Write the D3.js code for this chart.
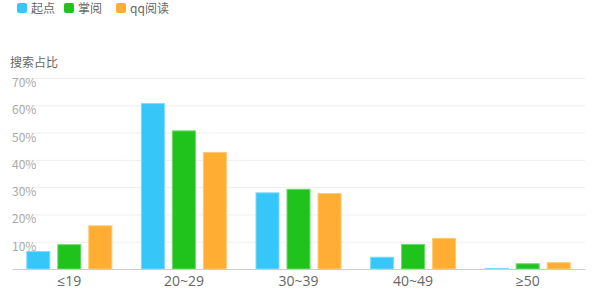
<!DOCTYPE html>
<html>
<head>
<meta charset="utf-8">
<script src="https://cdn.jsdelivr.net/npm/d3@7"></script>
<style>
  body { margin: 0; background: #fff; }
  text { font-family: "Microsoft YaHei", "Noto Sans CJK SC", "Open Sans", sans-serif; }
  .axis--x text { font-family: "Open Sans", "DejaVu Sans", sans-serif; }
</style>
</head>
<body>
<div id="chart"></div>
<script>
const categories = ["≤19", "20~29", "30~39", "40~49", "≥50"];
const seriesNames = ["起点", "掌阅", "qq阅读"];
const qidian = [6.6, 60.8, 28.1, 4.5, 0.4];
const zhangyue = [9.1, 50.8, 29.4, 9.2, 2.1];
const qqread = [16.0, 42.9, 27.8, 11.4, 2.5];
const yTicks = [10, 20, 30, 40, 50, 60, 70];
const colors = ["#36c6f8", "#20c31c", "#ffad33"];
const strokes = ["#7fdafb", "#6bd968", "#ffc870"];

const width = 597, height = 300;
const margin = {left: 12, right: 12, top: 78, bottom: 31};

const svg = d3.select("#chart").append("svg")
    .attr("width", width)
    .attr("height", height);

const x0 = d3.scaleBand()
    .domain(categories)
    .range([margin.left, width - margin.right]);

const groupPad = 14.3;
const x1 = d3.scaleBand()
    .domain(seriesNames)
    .range([groupPad, x0.bandwidth() - groupPad])
    .paddingInner(0.226);

const y = d3.scaleLinear()
    .domain([0, 70])
    .range([height - margin.bottom, margin.top]);

// grid lines
svg.append("g")
    .selectAll("line")
    .data(yTicks)
    .enter().append("line")
    .attr("x1", margin.left)
    .attr("x2", width - margin.right)
    .attr("y1", d => y(d) + 0.5)
    .attr("y2", d => y(d) + 0.5)
    .attr("stroke", "#eeeeee");

// y labels (inside, below line)
svg.append("g")
    .selectAll("text")
    .data(yTicks)
    .enter().append("text")
    .attr("x", margin.left)
    .attr("y", d => y(d) + 9)
    .style("font-size", "12px")
    .attr("fill", "#aaaaaa")
    .text(d => d + "%");

svg.append("text")
    .attr("x", 10)
    .attr("y", 67)
    .style("font-size", "12px")
    .attr("fill", "#666")
    .text("搜索占比");

const series = [qidian, zhangyue, qqread];

const groups = svg.append("g")
    .selectAll("g")
    .data(categories)
    .enter().append("g")
    .attr("transform", d => `translate(${x0(d)},0)`);

groups.selectAll("rect")
    .data((c, ci) => seriesNames.map((s, si) => ({s: s, si: si, v: series[si][ci]})))
    .enter().append("rect")
    .attr("x", d => x1(d.s) + 0.5)
    .attr("y", d => y(d.v) + 0.5)
    .attr("width", x1.bandwidth() - 1)
    .attr("height", d => Math.max(0, y(0) - y(d.v) - 0.5))
    .attr("fill", d => colors[d.si])
    .attr("stroke", d => strokes[d.si])
    .attr("stroke-width", 1);

// x axis
const xAxis = svg.append("g")
    .attr("class", "axis--x")
    .attr("transform", `translate(0,${y(0)})`)
    .call(d3.axisBottom(x0).tickSize(0).tickPadding(7));
xAxis.select(".domain").attr("stroke", "#cccccc");
xAxis.selectAll("text")
    .style("font-size", "14px")
    .attr("fill", "#666");

// legend
const legend = svg.append("g")
    .selectAll("g")
    .data(seriesNames)
    .enter().append("g");

const legendX = [17, 64, 116];
legend.append("rect")
    .attr("x", (d, i) => legendX[i])
    .attr("y", 3)
    .attr("width", 10)
    .attr("height", 10)
    .attr("rx", 2)
    .attr("fill", (d, i) => colors[i]);

legend.append("text")
    .attr("x", (d, i) => legendX[i] + 14)
    .attr("y", 13)
    .style("font-size", "12px")
    .attr("fill", "#666")
    .text(d => d);
</script>
</body>
</html>
